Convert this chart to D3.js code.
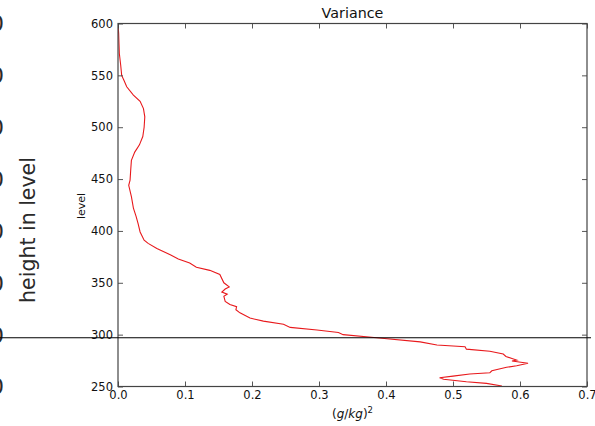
<!DOCTYPE html>
<html><head><meta charset="utf-8">
<script src="https://cdn.jsdelivr.net/npm/d3@7"></script>
<style>
body{margin:0;background:#fff}
svg{display:block}
text{font-family:"DejaVu Sans",sans-serif}
</style>
</head><body><svg id="c" width="595" height="426"></svg>
<script>
// ---- data ----
const levels = [600,590,580,571,560,550,545,539,531,525,518,510,500,491,483,476,468,459,449,444,433,422,414,407,399,391,388,383,377,373,369,365,362,358,350,346,344,341,339,337,332,329,327,324,321,316,313,310,307,304.5,302,300,297,293,290,288.4,286,284,281.3,279,277,275.5,274.6,272.4,270,268.5,265.2,263.3,262,260,258.5,257,254.6,253,250.5];
const variance = [0.000,0.001,0.0015,0.002,0.004,0.0055,0.009,0.013,0.023,0.033,0.038,0.040,0.039,0.037,0.032,0.025,0.020,0.019,0.018,0.016,0.020,0.023,0.027,0.030,0.033,0.039,0.045,0.058,0.078,0.090,0.107,0.117,0.137,0.152,0.158,0.166,0.160,0.155,0.163,0.158,0.160,0.167,0.177,0.176,0.182,0.197,0.217,0.247,0.257,0.297,0.329,0.336,0.386,0.451,0.476,0.518,0.520,0.555,0.575,0.579,0.588,0.595,0.588,0.612,0.595,0.580,0.558,0.555,0.525,0.500,0.480,0.486,0.520,0.550,0.573];
const xTicks = [0,0.1,0.2,0.3,0.4,0.5,0.6,0.7];
const yTicks = [250,300,350,400,450,500,550,600];
const markerLevel = 297;
const titleText = "Variance";
const yLabelText = "level";
const ghostLabelText = "height in level";

// ---- layout ----
const svg = d3.select("#c");
const L = 118, R = 587, T = 23.5, B = 386.5;
const x = d3.scaleLinear().domain([0,0.7]).range([L,R]);
const y = d3.scaleLinear().domain([250,600]).range([B,T]);

// ghost labels from a neighbouring figure (cut at the left edge)
svg.append("g").selectAll("text").data(yTicks).join("text")
  .attr("x",4).attr("y",d=>y(d)).attr("dy","0.36em")
  .attr("text-anchor","end").attr("font-size",22).attr("fill","#2a2a2a")
  .text(d=>d);
svg.append("text")
  .attr("transform",`translate(35,230) rotate(-90)`)
  .attr("text-anchor","middle").attr("font-size",20.5).attr("fill","#2a2a2a")
  .text(ghostLabelText);

// clip
svg.append("clipPath").attr("id","clip").append("rect")
  .attr("x",L).attr("y",T).attr("width",R-L).attr("height",B-T);

// data line
const line = d3.line().x((d,i)=>x(variance[i])).y(d=>y(d));
svg.append("path").datum(levels)
  .attr("clip-path","url(#clip)")
  .attr("d",line).attr("fill","none").attr("stroke","#e8191c").attr("stroke-width",1.1);

// axes (inward ticks, classic style)
const fmtX = d3.format(".1f");
const tk = 5;
const gB = svg.append("g").attr("transform",`translate(0,${B})`)
  .call(d3.axisBottom(x).tickValues(xTicks).tickFormat(fmtX).tickSizeInner(-tk).tickSizeOuter(0).tickPadding(4));
const gT = svg.append("g").attr("transform",`translate(0,${T})`)
  .call(d3.axisTop(x).tickValues(xTicks).tickFormat("").tickSizeInner(-tk).tickSizeOuter(0));
const gL = svg.append("g").attr("transform",`translate(${L},0)`)
  .call(d3.axisLeft(y).tickValues(yTicks).tickSizeInner(-tk).tickSizeOuter(0).tickPadding(5));
const gR = svg.append("g").attr("transform",`translate(${R},0)`)
  .call(d3.axisRight(y).tickValues(yTicks).tickFormat("").tickSizeInner(-tk).tickSizeOuter(0));
[gB,gT,gL,gR].forEach(g=>{
  g.select(".domain").remove();
  g.selectAll(".tick line").attr("stroke","#444").attr("stroke-width",0.9);
  g.selectAll(".tick text").attr("font-size",11.5).attr("fill","#111")
    .attr("font-family","DejaVu Sans, sans-serif");
});

// frame
svg.append("rect").attr("x",L).attr("y",T).attr("width",R-L).attr("height",B-T)
  .attr("fill","none").attr("stroke","#444").attr("stroke-width",1.2);

// horizontal marker line
svg.append("line").attr("x1",0).attr("x2",591)
  .attr("y1",y(markerLevel)).attr("y2",y(markerLevel))
  .attr("stroke","#000").attr("stroke-width",1.1);

// title
svg.append("text").attr("x",(L+R)/2).attr("y",18.3).attr("text-anchor","middle")
  .attr("font-size",14.3).attr("fill","#111").text(titleText);

// y label
svg.append("text").attr("transform","translate(85,206) rotate(-90)")
  .attr("text-anchor","middle").attr("font-size",11).attr("fill","#111").text(yLabelText);

// x label (g/kg)^2
const xl = svg.append("text").attr("x",(L+R)/2).attr("y",418).attr("text-anchor","middle")
  .attr("font-family","DejaVu Serif, serif").attr("font-size",12).attr("fill","#111");
xl.append("tspan").text("(");
xl.append("tspan").attr("font-style","italic").text("g");
xl.append("tspan").text("/");
xl.append("tspan").attr("font-style","italic").text("kg");
xl.append("tspan").text(")");
xl.append("tspan").attr("font-size",8.5).attr("dy",-5).text("2");
</script>
</body></html>
